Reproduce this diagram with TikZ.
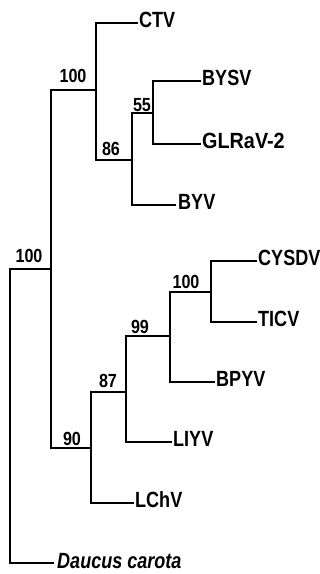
\documentclass[tikz,border=0pt]{standalone}
\usepackage{fontspec}
\setmainfont{Liberation Sans}
\newcommand{\lbltxt}[1]{\scalebox{0.82}[1]{#1}}
\newcommand{\bstxt}[1]{\scalebox{0.85}[1]{#1}}
\begin{document}
\begin{tikzpicture}[x=1pt,y=-1pt,
  branch/.style={line width=2.5pt,line join=miter,line cap=rect},
  leaf/.style={anchor=base west,inner sep=0pt,font=\fontsize{22}{22}\selectfont\bfseries},
  boot/.style={anchor=base,inner sep=0pt,font=\fontsize{19}{19}\selectfont\bfseries}]
\useasboundingbox (0,0) rectangle (320,574);
% internal nodes
\coordinate (r) at (10,269);
\coordinate (a) at (51,269);
\coordinate (u100) at (96,90);
\coordinate (n86) at (132,160);
\coordinate (n55) at (153,113);
\coordinate (n90) at (91,448);
\coordinate (n87) at (126,392);
\coordinate (n99) at (170,336);
\coordinate (l100) at (211,292);
% leaf ends
\coordinate (ctv) at (137,23);
\coordinate (bysv) at (200,81);
\coordinate (glr) at (200,144);
\coordinate (byv) at (175,205);
\coordinate (cysdv) at (256,261);
\coordinate (ticv) at (256,322);
\coordinate (bpyv) at (214,382);
\coordinate (liyv) at (171,442);
\coordinate (lchv) at (133,503);
\coordinate (dc) at (53,563);
% leaf labels
\node[leaf] (ctvL) at (139,27) {\lbltxt{CTV}};
\node[leaf] (bysvL) at (202,85) {\lbltxt{BYSV}};
\node[leaf] (glrL) at (202,148) {\scalebox{0.9}[1]{GLRaV-2}};
\node[leaf] (byvL) at (178,209) {\lbltxt{BYV}};
\node[leaf] (cysdvL) at (258,265) {\lbltxt{CYSDV}};
\node[leaf] (ticvL) at (258,326) {\lbltxt{TICV}};
\node[leaf] (bpyvL) at (216,386) {\lbltxt{BPYV}};
\node[leaf] (liyvL) at (173,446) {\lbltxt{LIYV}};
\node[leaf] (lchvL) at (135,507) {\lbltxt{LChV}};
\node[leaf] (dcL) at (57,568) {\scalebox{0.82}[1]{\itshape Daucus carota}};
% bootstrap values
\node[boot] (b1) at (29,262) {\bstxt{100}};
\node[boot] (b2) at (73,82) {\bstxt{100}};
\node[boot] (b3) at (111,155) {\bstxt{86}};
\node[boot] (b4) at (142,111) {\bstxt{55}};
\node[boot] (b5) at (72,445) {\bstxt{90}};
\node[boot] (b6) at (108,387) {\bstxt{87}};
\node[boot] (b7) at (140,333) {\bstxt{99}};
\node[boot] (b8) at (186,288) {\bstxt{100}};
% branches
\draw[branch] (r) |- (a);
\draw[branch] (r) |- (dc);
\draw[branch] (a) |- (u100);
\draw[branch] (a) |- (n90);
\draw[branch] (u100) |- (ctv);
\draw[branch] (u100) |- (n86);
\draw[branch] (n86) |- (n55);
\draw[branch] (n86) |- (byv);
\draw[branch] (n55) |- (bysv);
\draw[branch] (n55) |- (glr);
\draw[branch] (n90) |- (n87);
\draw[branch] (n90) |- (lchv);
\draw[branch] (n87) |- (n99);
\draw[branch] (n87) |- (liyv);
\draw[branch] (n99) |- (l100);
\draw[branch] (n99) |- (bpyv);
\draw[branch] (l100) |- (cysdv);
\draw[branch] (l100) |- (ticv);
\end{tikzpicture}
\end{document}
